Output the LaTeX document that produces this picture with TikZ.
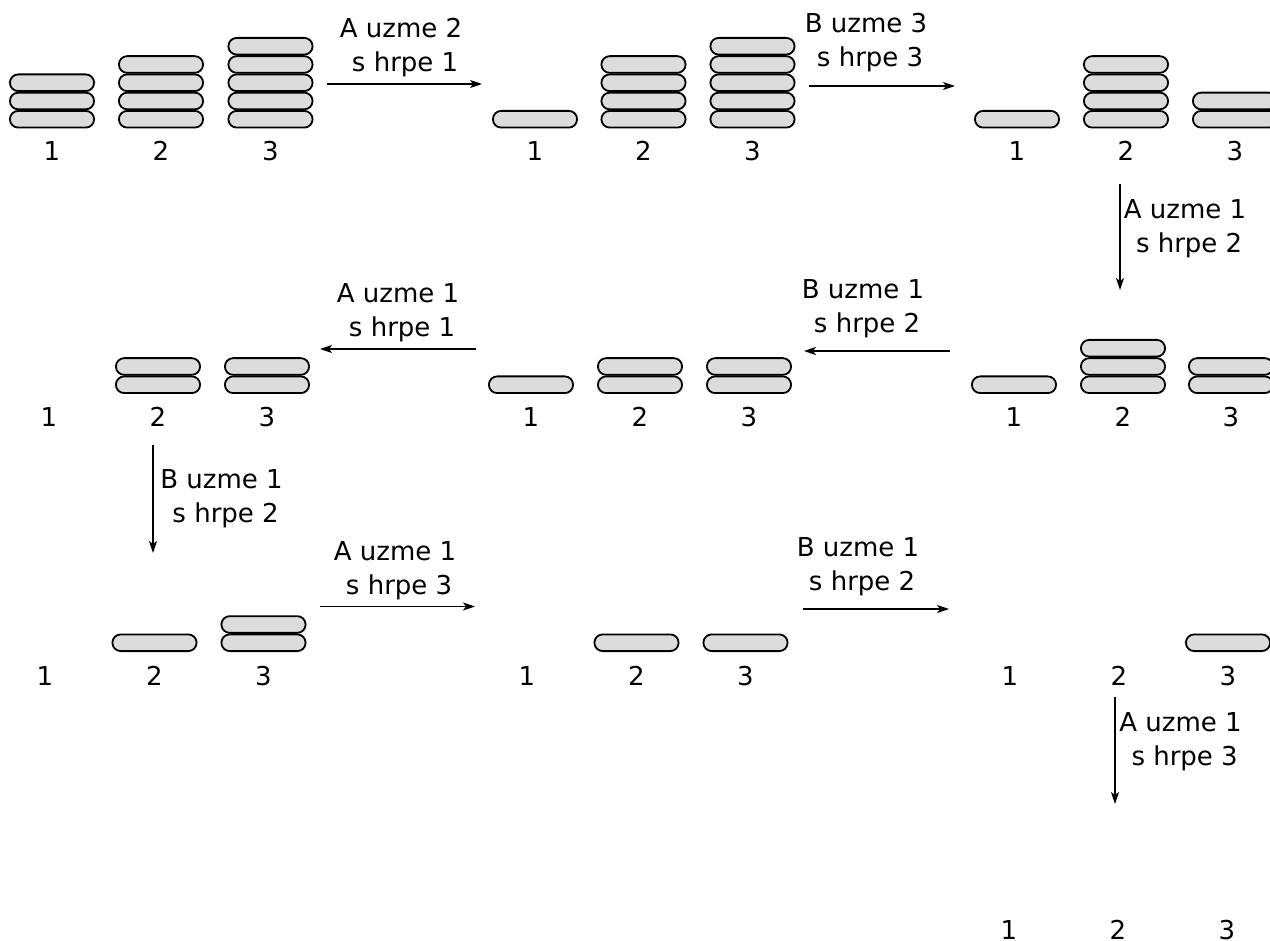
\documentclass[tikz,border=0pt]{standalone}
\usepackage{fontspec}
\setmainfont{DejaVu Sans}
\usetikzlibrary{arrows.meta,shapes.misc}
\definecolor{pillgray}{RGB}{220,220,220}
\tikzset{
  pill/.style={rounded rectangle, draw=black, fill=pillgray, line width=1.8pt,
    minimum width=84.2pt, minimum height=16.7pt, inner sep=0pt, outer sep=0pt},
  num/.style={anchor=base, inner sep=0pt, font=\fontsize{26}{34}\selectfont},
  move/.style={anchor=north, inner sep=0pt, align=center, font=\fontsize{26}{34}\selectfont},
  turn/.style={-{Stealth[length=12pt,width=8pt,inset=3pt]}, line width=1.4pt},
}
% a pile of #4 tokens centred at x=#2, resting on y=#3
\newcommand\pile[4]{%
  \foreach \k in {1,...,#4}{%
    \node[pill] (#1-\k) at (#2,{#3-0.9-8.35-(\k-1)*18.25}) {};}}
% the three heap numbers under a position
\newcommand\heapnums[5]{%
  \node[num] (#1-n1) at (#2,#5) {1};
  \node[num] (#1-n2) at (#3,#5) {2};
  \node[num] (#1-n3) at (#4,#5) {3};}
\begin{document}
\begin{tikzpicture}[x=1pt,y=-1pt]
\useasboundingbox (0,0) rectangle (1270,941);

% ---- row 1 ----
\pile{a1}{52}{128.5}{3} \pile{a2}{161}{128.5}{4} \pile{a3}{270.5}{128.5}{5}
\heapnums{a}{52}{161}{270.5}{161}
\pile{b1}{535}{128.5}{1} \pile{b2}{643.5}{128.5}{4} \pile{b3}{752.5}{128.5}{5}
\heapnums{b}{535}{643.5}{752.5}{161}
\pile{c1}{1017}{128.5}{1} \pile{c2}{1126}{128.5}{4} \pile{c3}{1235}{128.5}{2}
\heapnums{c}{1017}{1126}{1235}{161}

% ---- row 2 ----
\pile{d1}{1014}{394}{1} \pile{d2}{1123}{394}{3} \pile{d3}{1231}{394}{2}
\heapnums{d}{1014}{1123}{1231}{427}
\pile{e1}{531}{394}{1} \pile{e2}{640}{394}{2} \pile{e3}{749}{394}{2}
\heapnums{e}{531}{640}{749}{427}
\pile{f2}{158}{394}{2} \pile{f3}{267}{394}{2}
\heapnums{f}{49}{158}{267}{427}

% ---- row 3 ----
\pile{g2}{154.5}{652}{1} \pile{g3}{263.5}{652}{2}
\heapnums{g}{45}{154.5}{263.5}{685}
\pile{h2}{636.5}{652}{1} \pile{h3}{745.5}{652}{1}
\heapnums{h}{527}{636.5}{745.5}{685}
\pile{i3}{1228}{652}{1}
\heapnums{i}{1010}{1119}{1228}{685}

% ---- row 4 ----
\heapnums{j}{1009}{1118}{1227}{939.5}

% ---- moves ----
\coordinate (s1) at (327,84);   \coordinate (e1) at (482,84);
\coordinate (s2) at (809,86);   \coordinate (e2) at (955,86);
\coordinate (s3) at (1120,184); \coordinate (e3) at (1120,290);
\coordinate (s4) at (950,351);  \coordinate (e4) at (804,351);
\coordinate (s5) at (476,349);  \coordinate (e5) at (320,349);
\coordinate (s6) at (153,445);  \coordinate (e6) at (153,553);
\coordinate (s7) at (320,606.5);\coordinate (e7) at (475,606.5);
\coordinate (s8) at (803,609);  \coordinate (e8) at (949,609);
\coordinate (s9) at (1115,697); \coordinate (e9) at (1115,804);
\foreach \m in {1,...,9}{\draw[turn] (s\m) -- (e\m);}

\node[move] (m1) at (401,18)    {A uzme 2\\\hspace*{.318em}s hrpe 1};
\node[move] (m2) at (866,13)    {B uzme 3\\\hspace*{.318em}s hrpe 3};
\node[move] (m3) at (1185,199)  {A uzme 1\\\hspace*{.318em}s hrpe 2};
\node[move] (m4) at (863,279.5) {B uzme 1\\\hspace*{.318em}s hrpe 2};
\node[move] (m5) at (398,283)   {A uzme 1\\\hspace*{.318em}s hrpe 1};
\node[move] (m6) at (221.5,469) {B uzme 1\\\hspace*{.318em}s hrpe 2};
\node[move] (m7) at (395,541)   {A uzme 1\\\hspace*{.318em}s hrpe 3};
\node[move] (m8) at (858,537)   {B uzme 1\\\hspace*{.318em}s hrpe 2};
\node[move] (m9) at (1180.5,712){A uzme 1\\\hspace*{.318em}s hrpe 3};
\end{tikzpicture}
\end{document}
